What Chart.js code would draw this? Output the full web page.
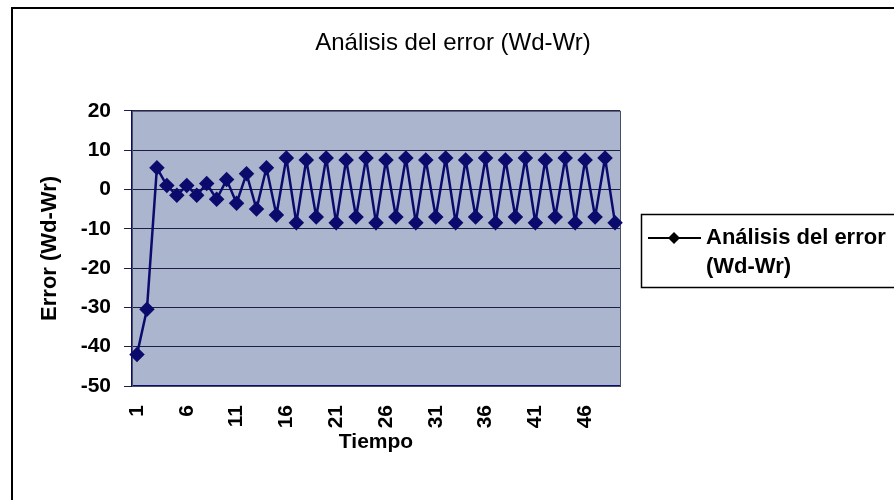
<!DOCTYPE html>
<html>
<head>
<meta charset="utf-8">
<script src="https://cdn.jsdelivr.net/npm/chart.js@4/dist/chart.umd.min.js"></script>
<style>
  html, body { margin: 0; padding: 0; background: #fff; }
  #wrap { width: 894px; height: 500px; position: relative; }
</style>
</head>
<body>
<div id="wrap"><canvas id="myChart" width="894" height="500"></canvas></div>
<script>
// data
let chartTitle = "Análisis del error (Wd-Wr)";
let seriesLabel = "Análisis del error (Wd-Wr)";
let xTitle = "Tiempo";
let yTitle = "Error (Wd-Wr)";
// time steps 1..49
let tiempo = [
	1, 2, 3, 4, 5, 6, 7, 8, 9, 10,
	11, 12, 13, 14, 15, 16, 17, 18, 19, 20,
	21, 22, 23, 24, 25, 26, 27, 28, 29, 30,
	31, 32, 33, 34, 35, 36, 37, 38, 39, 40,
	41, 42, 43, 44, 45, 46, 47, 48, 49,
];
let errorValues = [
	-42, -30.5, 5.5, 1, -1.5, 1, -1.5, 1.5, -2.5, 2.5,
	-3.5, 4, -5, 5.5, -6.5, 8, -8.5, 7.5, -7, 8,
	-8.5, 7.5, -7, 8, -8.5, 7.5, -7, 8, -8.5, 7.5,
	-7, 8, -8.5, 7.5, -7, 8, -8.5, 7.5, -7, 8,
	-8.5, 7.5, -7, 8, -8.5, 7.5, -7, 8, -8.5,
];
// tick labels shown on the x axis (every 5th step)
let xTickLabels = ["1", "6", "11", "16", "21", "26", "31", "36", "41", "46"];
let yMin = -50,
	yMax = 20,
	yStep = 10;

let fontFam = "Arial, 'Liberation Sans', sans-serif";
let lineColor = "#0b0b6e";

// paints the outer frame, plot background and the plot border
const framePlugin = {
	id: "frame",
	beforeDraw(chart) {
		const c = chart.ctx;
		const a = chart.chartArea;
		c.save();
		c.fillStyle = "#fff";
		c.fillRect(0, 0, chart.width, chart.height);
		c.strokeStyle = "#000";
		c.lineWidth = 2;
		c.strokeRect(12, 8, 920, 540);
		c.fillStyle = "#abb5cd";
		c.fillRect(a.left, a.top, a.right - a.left, a.bottom - a.top);
		c.restore();
	},
	beforeDatasetsDraw(chart) {
		const c = chart.ctx;
		const a = chart.chartArea;
		c.save();
		c.strokeStyle = "#4a4f66";
		c.lineWidth = 1;
		c.strokeRect(a.left + 0.5, a.top + 0.5, a.right - a.left, a.bottom - a.top);
		c.restore();
	},
};

// excel style legend box on the right, text split on two lines
const legendPlugin = {
	id: "boxLegend",
	afterDraw(chart) {
		const c = chart.ctx;
		const label = chart.data.datasets[0].label;
		const cut = label.lastIndexOf(" ");
		const lines = [label.slice(0, cut), label.slice(cut + 1)];
		c.save();
		c.strokeStyle = "#000";
		c.lineWidth = 1.5;
		c.strokeRect(641.5, 214.5, 300, 73);
		c.lineWidth = 2;
		c.beginPath();
		c.moveTo(648, 238);
		c.lineTo(701, 238);
		c.stroke();
		c.fillStyle = "#000";
		c.beginPath();
		c.moveTo(674, 232);
		c.lineTo(680, 238);
		c.lineTo(674, 244);
		c.lineTo(668, 238);
		c.closePath();
		c.fill();
		c.font = "bold 22px " + fontFam;
		c.textBaseline = "middle";
		c.fillText(lines[0], 706, 238);
		c.fillText(lines[1], 706, 267);
		c.restore();
	},
};

let ctx = document.getElementById("myChart").getContext("2d");
var myChart = new Chart(ctx, {
	type: "line",
	data: {
		labels: tiempo,
		datasets: [
			{
				label: seriesLabel,
				data: errorValues,
				borderColor: lineColor,
				backgroundColor: lineColor,
				borderWidth: 2.5,
				pointStyle: "rectRot",
				pointRadius: 6,
				pointHoverRadius: 6,
				tension: 0,
				yAxisID: "y",
			},
		],
	},
	options: {
		responsive: false,
		animation: false,
		layout: { padding: { left: 12, right: 0, top: 0, bottom: 0 } },
		plugins: {
			legend: { display: false },
			tooltip: { enabled: false },
			title: {
				display: true,
				text: chartTitle,
				color: "#000",
				font: { family: fontFam, size: 24, weight: "normal" },
				padding: { top: 29, bottom: 53 },
			},
		},
		scales: {
			x: {
				type: "category",
				offset: true,
				grid: { display: false },
				border: { display: true, color: lineColor, width: 2 },
				ticks: {
					autoSkip: false,
					minRotation: 90,
					maxRotation: 90,
					padding: 11,
					color: "#000",
					font: { family: fontFam, size: 21, weight: "bold" },
					callback: function (val) {
						let lab = String(this.getLabelForValue(val));
						return xTickLabels.includes(lab) ? lab : "";
					},
				},
				title: {
					display: true,
					text: xTitle,
					color: "#000",
					font: { family: fontFam, size: 21, weight: "bold" },
					padding: { top: 0, bottom: 45 },
				},
				afterFit(scale) {
					scale.height = 114;
				},
			},
			y: {
				position: "left",
				min: yMin,
				max: yMax,
				grid: {
					color: "#1e1e44",
					lineWidth: 1,
					tickLength: 8,
				},
				border: { display: true, color: lineColor, width: 2 },
				ticks: {
					stepSize: yStep,
					padding: 13,
					color: "#000",
					font: { family: fontFam, size: 21, weight: "bold" },
				},
				title: {
					display: true,
					text: yTitle,
					color: "#000",
					font: { family: fontFam, size: 22, weight: "bold" },
					padding: { top: 25, bottom: 0 },
				},
				afterFit(scale) {
					scale.width = 120;
				},
			},
			// empty axis that only keeps room for the legend box
			side: {
				position: "right",
				display: true,
				grid: { display: false },
				border: { display: false },
				ticks: { display: false },
				afterFit(scale) {
					scale.width = 274;
				},
			},
		},
	},
	plugins: [framePlugin, legendPlugin],
});
</script>
</body>
</html>
